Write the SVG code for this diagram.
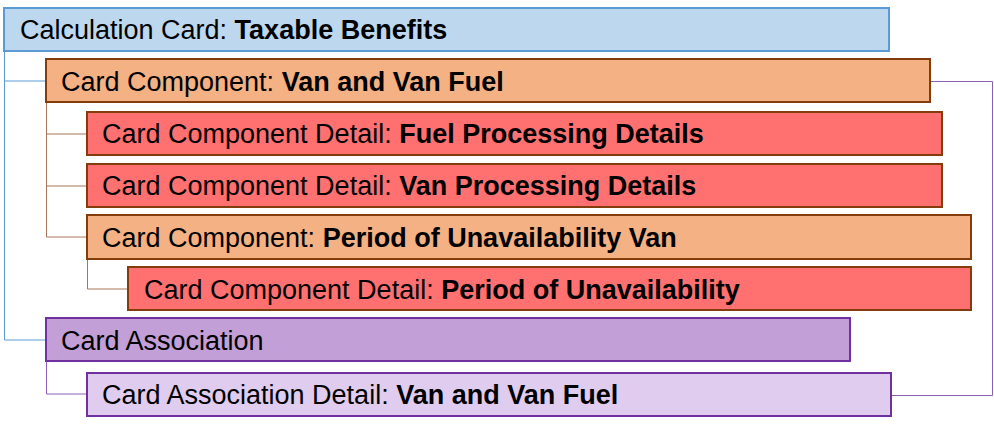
<svg xmlns="http://www.w3.org/2000/svg" width="994" height="432" viewBox="0 0 994 432">
<style>
text{font-family:"Liberation Sans",Arial,sans-serif;font-size:27px;fill:#000}
.b{font-weight:bold}
.calc{fill:#BDD7EE;stroke:#5B9BD5;stroke-width:2}
.comp{fill:#F4B183;stroke:#843C0C;stroke-width:2}
.det{fill:#FF7171;stroke:#843C0C;stroke-width:2}
.assoc{fill:#C39FD8;stroke:#7030A0;stroke-width:2}
.adet{fill:#E0CCEE;stroke:#7030A0;stroke-width:2}
.cb{fill:none;stroke:#5B9BD5;stroke-width:1}
.cbr{fill:none;stroke:#A8765A;stroke-width:1}
.cp{fill:none;stroke:#8E5EB8;stroke-width:1}
</style>
<rect width="994" height="432" fill="#fff"/>
<g id="connectors">
<path class="cb" d="M4.5 51V81H46M4.5 81V340H46"/>
<path class="cbr" d="M46.5 102V237H87M46.5 134H87M46.5 186H87"/>
<path class="cbr" d="M87.5 259V289H128"/>
<path class="cp" d="M46.5 361V394H87"/>
<path class="cp" d="M930 81.5H992.5V395.5H891"/>
</g>
<g id="calc"><rect class="calc" x="4" y="8" width="885" height="43"/><text x="20" y="39">Calculation Card: <tspan class="b">Taxable Benefits</tspan></text></g>
<g id="comp1"><rect class="comp" x="46" y="59" width="884" height="43"/><text x="61" y="90.5">Card Component: <tspan class="b">Van and Van Fuel</tspan></text></g>
<g id="det1"><rect class="det" x="87" y="112" width="855" height="43"/><text x="102" y="143">Card Component Detail: <tspan class="b">Fuel Processing Details</tspan></text></g>
<g id="det2"><rect class="det" x="87" y="164" width="855" height="43"/><text x="102" y="195">Card Component Detail: <tspan class="b">Van Processing Details</tspan></text></g>
<g id="comp2"><rect class="comp" x="87" y="215" width="884" height="44"/><text x="102" y="246.5">Card Component: <tspan class="b">Period of Unavailability Van</tspan></text></g>
<g id="det3"><rect class="det" x="128" y="267" width="843" height="43"/><text x="144" y="298.5">Card Component Detail: <tspan class="b">Period of Unavailability</tspan></text></g>
<g id="assoc"><rect class="assoc" x="46" y="318" width="804" height="43"/><text x="61" y="349.5">Card Association</text></g>
<g id="adet"><rect class="adet" x="87" y="373" width="804" height="43"/><text x="102" y="404">Card Association Detail: <tspan class="b">Van and Van Fuel</tspan></text></g>
</svg>
